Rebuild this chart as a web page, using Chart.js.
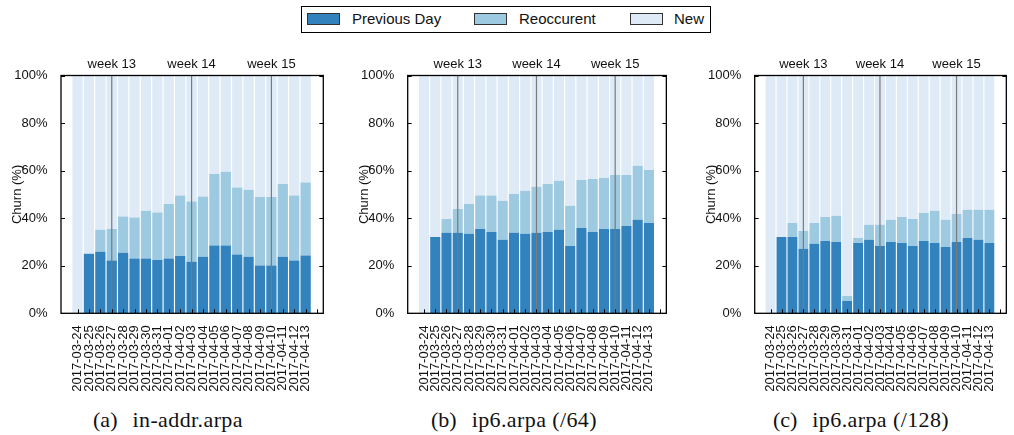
<!DOCTYPE html>
<html>
<head>
<meta charset="utf-8">
<script src="https://cdn.jsdelivr.net/npm/chart.js@4"></script>
<style>
  html, body { margin: 0; padding: 0; background: #fff; overflow: hidden; }
  body { width: 1014px; height: 435px; position: relative; font-family: "Liberation Sans", Arial, sans-serif; }
  .panel { position: absolute; top: 40px; width: 340px; height: 360px; }
  .legend { position: absolute; left: 301px; top: 6px; width: 408px; height: 25px; border: 1px solid #000; }
  .legend .sw { position: absolute; top: 6px; width: 31px; height: 10px; border: 1px solid #333; }
  .legend .lb { position: absolute; top: 2px; font-size: 15px; line-height: 20px; color: #111; }
  .caption { position: absolute; top: 408px; width: 340px; text-align: center; font-family: "Liberation Serif", "Times New Roman", serif; font-size: 22px; line-height: 24px; color: #111; }
  .caption .tag { margin-right: 15px; }
  .caption .name { letter-spacing: 0.4px; }
</style>
</head>
<body>
<div class="legend">
  <div class="sw" style="left:5px;background:#3182bd"></div><div class="lb" style="left:50px">Previous Day</div>
  <div class="sw" style="left:172px;background:#9ecae1"></div><div class="lb" style="left:217px">Reoccurent</div>
  <div class="sw" style="left:328px;background:#deebf7"></div><div class="lb" style="left:372px">New</div>
</div>

<div class="panel" style="left:0px"><canvas id="chartA" width="340" height="360"></canvas></div>
<div class="panel" style="left:340px"><canvas id="chartB" width="340" height="360"></canvas></div>
<div class="panel" style="left:680px"><canvas id="chartC" width="340" height="360"></canvas></div>

<div class="caption" style="left:-2px"><span class="tag">(a)</span><span class="name">in-addr.arpa</span></div>
<div class="caption" style="left:344px"><span class="tag">(b)</span><span class="name">ip6.arpa (/64)</span></div>
<div class="caption" style="left:691px"><span class="tag">(c)</span><span class="name">ip6.arpa (/128)</span></div>

<script>
// Days of the measurement period
const dates = [
  '2017-03-24', '2017-03-25', '2017-03-26', '2017-03-27', '2017-03-28', '2017-03-29', '2017-03-30',
  '2017-03-31', '2017-04-01', '2017-04-02', '2017-04-03', '2017-04-04', '2017-04-05', '2017-04-06',
  '2017-04-07', '2017-04-08', '2017-04-09', '2017-04-10', '2017-04-11', '2017-04-12', '2017-04-13'
];

// Week boundaries marked above each plot
const weekDays = ['2017-03-27', '2017-04-03', '2017-04-10'];
const weekLabels = ['week 13', 'week 14', 'week 15'];

// in-addr.arpa churn shares (%)
const prevA   = [0, 25.0, 25.9, 22.2, 25.5, 23.0, 23.0, 22.4, 23.0, 24.1, 21.7, 23.8, 28.5, 28.5, 24.7, 23.8, 20.1, 20.1, 23.8, 22.2, 24.3];
const reoccA  = [0, 0, 9.2, 13.3, 15.2, 17.3, 20.1, 20.0, 23.0, 25.4, 25.3, 25.3, 30.1, 31.0, 28.2, 28.2, 28.8, 28.8, 30.6, 27.3, 30.7];

// ip6.arpa (/64) churn shares (%)
const prevB   = [0, 32.1, 33.9, 33.9, 33.4, 35.5, 34.2, 30.9, 33.9, 33.4, 33.9, 34.2, 35.1, 28.3, 35.9, 34.2, 35.5, 35.5, 36.7, 39.3, 38.0];
const reoccB  = [0, 0, 5.8, 10.0, 12.6, 14.0, 15.3, 16.4, 16.3, 18.1, 19.3, 20.2, 20.6, 16.9, 20.2, 22.3, 21.4, 22.7, 21.5, 22.7, 22.3];

// ip6.arpa (/128) churn shares (%)
const prevC   = [0, 32.1, 32.1, 27.1, 29.2, 30.4, 30.0, 5.2, 29.6, 30.9, 28.3, 30.0, 29.6, 28.3, 30.4, 29.6, 27.9, 30.0, 31.7, 30.9, 29.6];
const reoccC  = [0, 0, 5.9, 7.5, 8.8, 10.1, 11.0, 2.1, 2.1, 6.3, 8.9, 9.3, 10.9, 11.4, 11.8, 13.5, 11.4, 11.8, 11.8, 12.6, 13.9];

const yTicks = [0, 20, 40, 60, 80, 100];

const COLORS = { prev: '#3182bd', reocc: '#9ecae1', fresh: '#deebf7' };
const FONT = '"Liberation Sans", Arial, Helvetica, sans-serif';
const X_MIN = -1.45, X_MAX = 21.55;

// Frame, inward tick marks and week separators
const framePlugin = {
  id: 'frame',
  afterDatasetsDraw(chart) {
    const { ctx, chartArea: a, scales: { x, y } } = chart;
    ctx.save();
    // week separators
    ctx.strokeStyle = '#7a7a7a';
    ctx.lineWidth = 1.2;
    ctx.fillStyle = '#111';
    ctx.font = '13px ' + FONT;
    ctx.textAlign = 'center';
    ctx.textBaseline = 'alphabetic';
    weekDays.forEach((d, i) => {
      const px = x.getPixelForValue(dates.indexOf(d));
      ctx.beginPath();
      ctx.moveTo(px, a.top);
      ctx.lineTo(px, a.bottom);
      ctx.stroke();
      ctx.fillText(weekLabels[i], px, a.top - 7.2);
    });
    // tick marks pointing into the plot
    ctx.strokeStyle = '#000';
    ctx.lineWidth = 1;
    ctx.beginPath();
    x.ticks.forEach(t => {
      const px = Math.round(x.getPixelForValue(t.value)) + 0.5;
      ctx.moveTo(px, a.bottom);
      ctx.lineTo(px, a.bottom - 4);
    });
    yTicks.forEach(v => {
      const py = Math.round(y.getPixelForValue(v)) + 0.5;
      ctx.moveTo(a.left, py);
      ctx.lineTo(a.left + 4, py);
      ctx.moveTo(a.right, py);
      ctx.lineTo(a.right - 4, py);
    });
    ctx.stroke();
    // frame
    ctx.lineWidth = 1.3;
    ctx.strokeRect(a.left, a.top, a.right - a.left, a.bottom - a.top);
    ctx.restore();
  }
};

function drawPanel(id, prev, reocc, plotLeft, plotRight) {
  const fresh = prev.map((p, i) => +(100 - p - reocc[i]).toFixed(1));
  const pts = arr => arr.map((v, i) => ({ x: i, y: v }));
  const tickIdx = dates.map((d, i) => i).concat([dates.length]);
  const W = 340;
  new Chart(document.getElementById(id), {
    type: 'bar',
    data: {
      datasets: [
        { label: 'Previous Day', data: pts(prev), backgroundColor: COLORS.prev },
        { label: 'Reoccurent', data: pts(reocc), backgroundColor: COLORS.reocc },
        { label: 'New', data: pts(fresh), backgroundColor: COLORS.fresh }
      ]
    },
    options: {
      responsive: false,
      animation: false,
      events: [],
      layout: { padding: { left: 0, right: W - plotRight, top: 35.5, bottom: 0 } },
      datasets: { bar: { categoryPercentage: 1, barPercentage: 0.9, borderWidth: 0 } },
      plugins: { legend: { display: false }, tooltip: { enabled: false } },
      scales: {
        x: {
          type: 'linear',
          stacked: true,
          offset: false,
          bounds: 'data',
          min: X_MIN,
          max: X_MAX,
          afterBuildTicks: s => {
            s.ticks = tickIdx.map(v => ({ value: v }));
            s.min = X_MIN;
            s.max = X_MAX;
          },
          afterFit: s => { s.height = 86.7; },
          grid: { display: false },
          border: { display: false },
          ticks: {
            autoSkip: false,
            minRotation: 90,
            maxRotation: 90,
            padding: 4,
            color: '#111',
            font: { family: FONT, size: 13 },
            callback: v => dates[v] || ''
          }
        },
        y: {
          stacked: true,
          min: 0,
          max: 100,
          afterFit: s => { s.width = plotLeft; },
          grid: { display: false },
          border: { display: false },
          title: {
            display: true,
            text: 'Churn (%)',
            color: '#111',
            font: { family: FONT, size: 13 },
            padding: { top: plotLeft - 43.7 - 7.8, bottom: 0 }
          },
          ticks: {
            stepSize: 20,
            padding: 5.5,
            color: '#111',
            font: { family: FONT, size: 13 },
            callback: v => v + '%'
          }
        }
      }
    },
    plugins: [framePlugin]
  });
}

drawPanel('chartA', prevA, reoccA, 61, 323.3);
drawPanel('chartB', prevB, reoccB, 67.7, 330);
drawPanel('chartC', prevC, reoccC, 74.7, 336);
</script>
</body>
</html>
